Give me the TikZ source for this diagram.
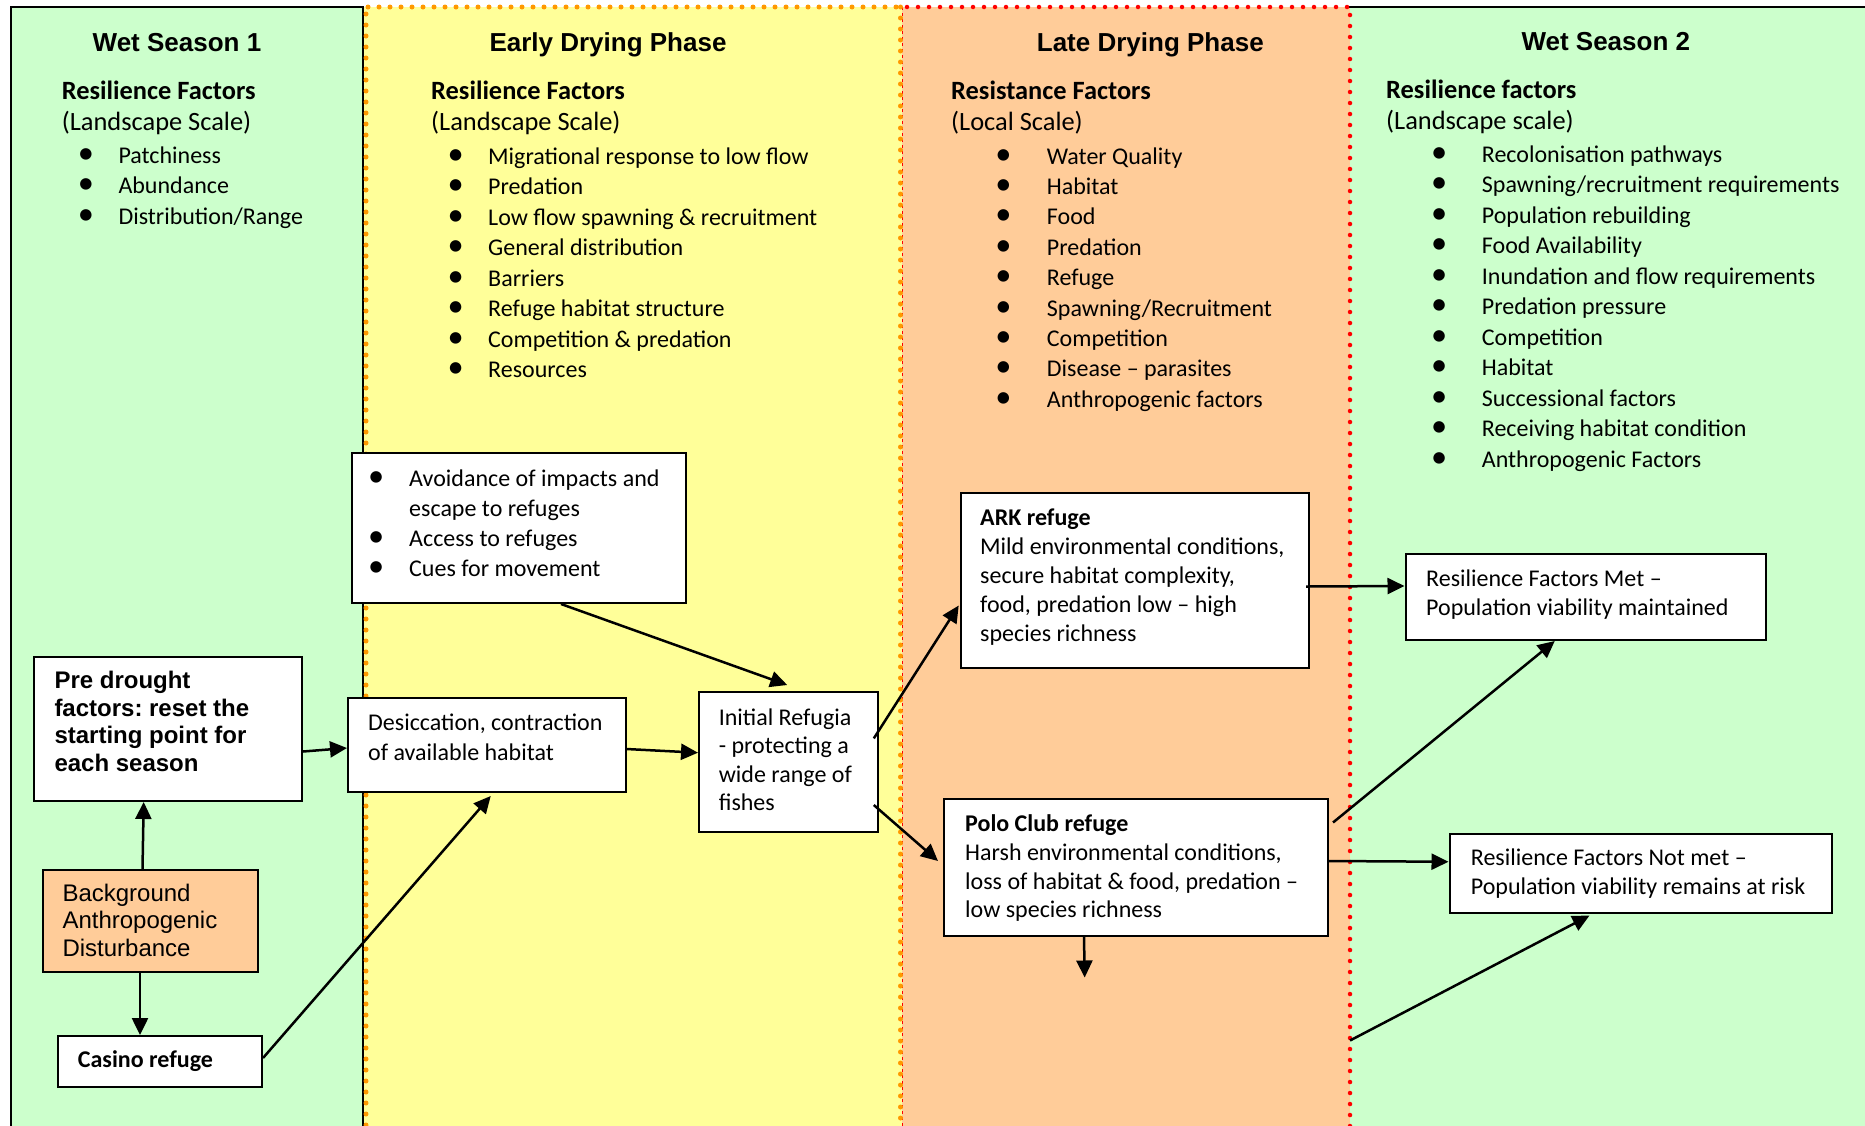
\documentclass[tikz,border=0pt]{standalone}
\usepackage{fontspec}
\setmainfont{Carlito}
\newfontfamily\arialfont{Liberation Sans}
\usepackage{graphicx}
\usetikzlibrary{arrows.meta,calc}
\definecolor{wetgreen}{RGB}{204,255,204}
\definecolor{dryyellow}{RGB}{255,255,153}
\definecolor{latepeach}{RGB}{255,204,153}
\definecolor{dotorange}{RGB}{255,153,0}
\definecolor{dotred}{RGB}{255,0,0}
\newlength\bulgap
\newcommand\bulglyph{\scalebox{1.35}{\textbullet}}
\newcommand\bul{\llap{\makebox[0pt]{\bulglyph}\hspace{\bulgap}}}
\frenchspacing
\begin{document}
\begin{tikzpicture}[x=1pt,y=-1pt,
  box/.style={draw=black,line width=2pt,fill=white,anchor=north west,inner sep=0pt},
  txt/.style={anchor=base west,inner sep=0pt},
  body/.style={txt,font=\fontsize{24}{#1}\selectfont},
  arialbody/.style={txt,font=\arialfont\fontsize{24}{#1}\selectfont},
  head/.style={txt,font=\fontsize{26.4}{31.2}\selectfont},
  titlef/.style={anchor=base,inner sep=0pt,font=\arialfont\bfseries\fontsize{26}{30}\selectfont},
  conn/.style={line width=2.5pt,-{Triangle[length=17pt,width=16pt]}},
  orangedots/.style={dotorange,line width=5pt,line cap=round,dash pattern=on 0pt off 11pt},
  reddots/.style={dotred,line width=4.5pt,line cap=round,dash pattern=on 0pt off 11pt},
  panelline/.style={black,line width=2pt}
]
\useasboundingbox (0,0) rectangle (1865,1125);
\clip (0,0) rectangle (1865,1125);

% panels
\fill[wetgreen] (11,7) rectangle (363,1130);
\fill[dryyellow] (363,7) rectangle (901.5,1130);
\fill[latepeach] (901.5,7) rectangle (1350,1130);
\fill[wetgreen] (1350,7) rectangle (1870,1130);
\draw[panelline] (11,1130) -- (11,7) -- (363,7) -- (363,1130);
\draw[panelline] (1347,7) -- (1870,7);
\draw[reddots] (907,7) -- (1350,7) -- (1350,1130);
\draw[dotred,line width=1.5pt,dash pattern=on 3pt off 3pt] (902.5,7) -- (902.5,1130);
\draw[orangedots] (368,7) -- (900.5,7);
\draw[orangedots] (366,14) -- (366,1130);
\draw[orangedots] (900.5,7) -- (900.5,1130);

% titles
\node[titlef] (t1) at (177,51.7) {Wet Season 1};
\node[titlef] (t2) at (608,51.7) {Early Drying Phase};
\node[titlef] (t3) at (1150.3,51.7) {Late Drying Phase};
\node[titlef] (t4) at (1605.8,50) {Wet Season 2};

% headings
\node[head] (h1) at (61.7,99.3) {\begin{tabular}[t]{@{}l@{}}\textbf{Resilience Factors}\\(Landscape Scale)\end{tabular}};
\node[head] (h2) at (431,99.3) {\begin{tabular}[t]{@{}l@{}}\textbf{Resilience Factors}\\(Landscape Scale)\end{tabular}};
\node[head] (h3) at (951,99.3) {\begin{tabular}[t]{@{}l@{}}\textbf{Resistance Factors}\\(Local Scale)\end{tabular}};
\node[head] (h4) at (1386,98.3) {\begin{tabular}[t]{@{}l@{}}\textbf{Resilience factors}\\(Landscape scale)\end{tabular}};

% lists
\node[body=30.5] (l1) at (118.3,163.3) {\setlength\bulgap{32.6pt}\begin{tabular}[t]{@{}l@{}}\bul Patchiness\\\bul Abundance\\\bul Distribution/Range\end{tabular}};
\node[body=30.5] (l2) at (488,164) {\setlength\bulgap{32.5pt}\begin{tabular}[t]{@{}l@{}}\bul Migrational response to low flow\\\bul Predation\\\bul Low flow spawning \& recruitment\\\bul General distribution\\\bul Barriers\\\bul Refuge habitat structure\\\bul Competition \& predation\\\bul Resources\end{tabular}};
\node[body=30.4] (l3) at (1046.7,164) {\setlength\bulgap{43.4pt}\begin{tabular}[t]{@{}l@{}}\bul Water Quality\\\bul Habitat\\\bul Food\\\bul Predation\\\bul Refuge\\\bul Spawning/Recruitment\\\bul Competition\\\bul Disease – parasites\\\bul Anthropogenic factors\end{tabular}};
\node[body=30.5] (l4) at (1481.7,162.3) {\setlength\bulgap{42.7pt}\begin{tabular}[t]{@{}l@{}}\bul Recolonisation pathways\\\bul Spawning/recruitment requirements\\\bul Population rebuilding\\\bul Food Availability\\\bul Inundation and flow requirements\\\bul Predation pressure\\\bul Competition\\\bul Habitat\\\bul Successional factors\\\bul Receiving habitat condition\\\bul Anthropogenic Factors\end{tabular}};

% boxes
\node[box,minimum width=268pt,minimum height=144pt] (pre) at (33,656) {};
\node[box,fill=latepeach,minimum width=215.5pt,minimum height=101.5pt] (bg) at (41.5,869) {};
\node[box,minimum width=204pt,minimum height=51pt] (casino) at (57,1035) {};
\node[box,minimum width=334pt,minimum height=150pt] (avoid) at (351,452) {};
\node[box,minimum width=277.5pt,minimum height=94pt] (desic) at (347,697) {};
\node[box,minimum width=178.5pt,minimum height=140pt] (init) at (698,691) {};
\node[box,minimum width=348pt,minimum height=175pt] (ark) at (960,492) {};
\node[box,minimum width=384pt,minimum height=137pt] (polo) at (943,798) {};
\node[box,minimum width=360.5pt,minimum height=86pt] (met) at (1404.5,553) {};
\node[box,minimum width=382pt,minimum height=79.5pt] (notmet) at (1448.5,832.5) {};

% box texts
\node[arialbody=27.8,font=\arialfont\bfseries\fontsize{24}{27.8}\selectfont] (pretext) at (54.3,688.3) {\begin{tabular}[t]{@{}l@{}}Pre drought\\factors: reset the\\starting point for\\each season\end{tabular}};
\node[arialbody=27.2] (bgtext) at (62.3,901.7) {\begin{tabular}[t]{@{}l@{}}Background\\Anthropogenic\\Disturbance\end{tabular}};
\node[body=29] (casinotext) at (77.7,1067.3) {\textbf{Casino refuge}};
\node[body=30] (avoidtext) at (409,486.7) {\setlength\bulgap{33pt}\begin{tabular}[t]{@{}l@{}}\bul Avoidance of impacts and\\escape to refuges\\\bul Access to refuges\\\bul Cues for movement\end{tabular}};
\node[body=30] (desictext) at (368,730) {\begin{tabular}[t]{@{}l@{}}Desiccation, contraction\\of available habitat\end{tabular}};
\node[body=28.6] (inittext) at (718.6,725) {\begin{tabular}[t]{@{}l@{}}Initial Refugia\\- protecting a\\wide range of\\fishes\end{tabular}};
\node[body=29] (arktext) at (980,525) {\begin{tabular}[t]{@{}l@{}}\textbf{ARK refuge}\\Mild environmental conditions,\\secure habitat complexity,\\food, predation low – high\\species richness\end{tabular}};
\node[body=28.7] (polotext) at (965,831.7) {\begin{tabular}[t]{@{}l@{}}\textbf{Polo Club refuge}\\Harsh environmental conditions,\\loss of habitat \& food, predation –\\low species richness\end{tabular}};
\node[body=28.3] (mettext) at (1426,586.7) {\begin{tabular}[t]{@{}l@{}}Resilience Factors Met –\\Population viability maintained\end{tabular}};
\node[body=29] (notmettext) at (1470.7,865) {\begin{tabular}[t]{@{}l@{}}Resilience Factors Not met –\\Population viability remains at risk\end{tabular}};

% free ends
\coordinate (polodown) at (1084.7,977.5);
\coordinate (freestart) at (1350,1040.5);

% connectors
\draw[conn] ($(bg.north)+(-7.75,0)$) -- ($(pre.south)+(-24.3,0)$);
\draw[conn] ($(bg.south)+(-10.25,0)$) -- ($(casino.north)+(-20,0)$);
\draw[conn] ($(pre.east)+(0,22.5)$) -- ($(desic.west)+(0,3)$);
\draw[conn] ($(casino.east)+(0,-3.5)$) -- ($(desic.south)+(4,3)$);
\draw[conn] ($(avoid.south)+(42,0)$) -- ($(init.north)+(-1,-6)$);
\draw[conn] ($(desic.east)+(0,4)$) -- ($(init.west)+(0,-9.3)$);
\draw[conn] ($(init.east)+(-4.7,-23.6)$) -- ($(ark.west)+(-1.3,25)$);
\draw[conn] ($(init.east)+(-4.7,43)$) -- ($(polo.west)+(-5,-6.5)$);
\draw[conn] ($(ark.east)+(-4,6)$) -- ($(met.west)+(0,-11)$);
\draw[conn] ($(polo.east)+(4,-45)$) -- ($(met.south)+(-31,0)$);
\draw[conn] ($(polo.east)+(0,-6.5)$) -- ($(notmet.west)+(0,-11.5)$);
\draw[conn] ($(polo.south)+(-52,0)$) -- (polodown);
\draw[conn] (freestart) -- ($(notmet.south)+(-51,1.5)$);
\end{tikzpicture}
\end{document}
